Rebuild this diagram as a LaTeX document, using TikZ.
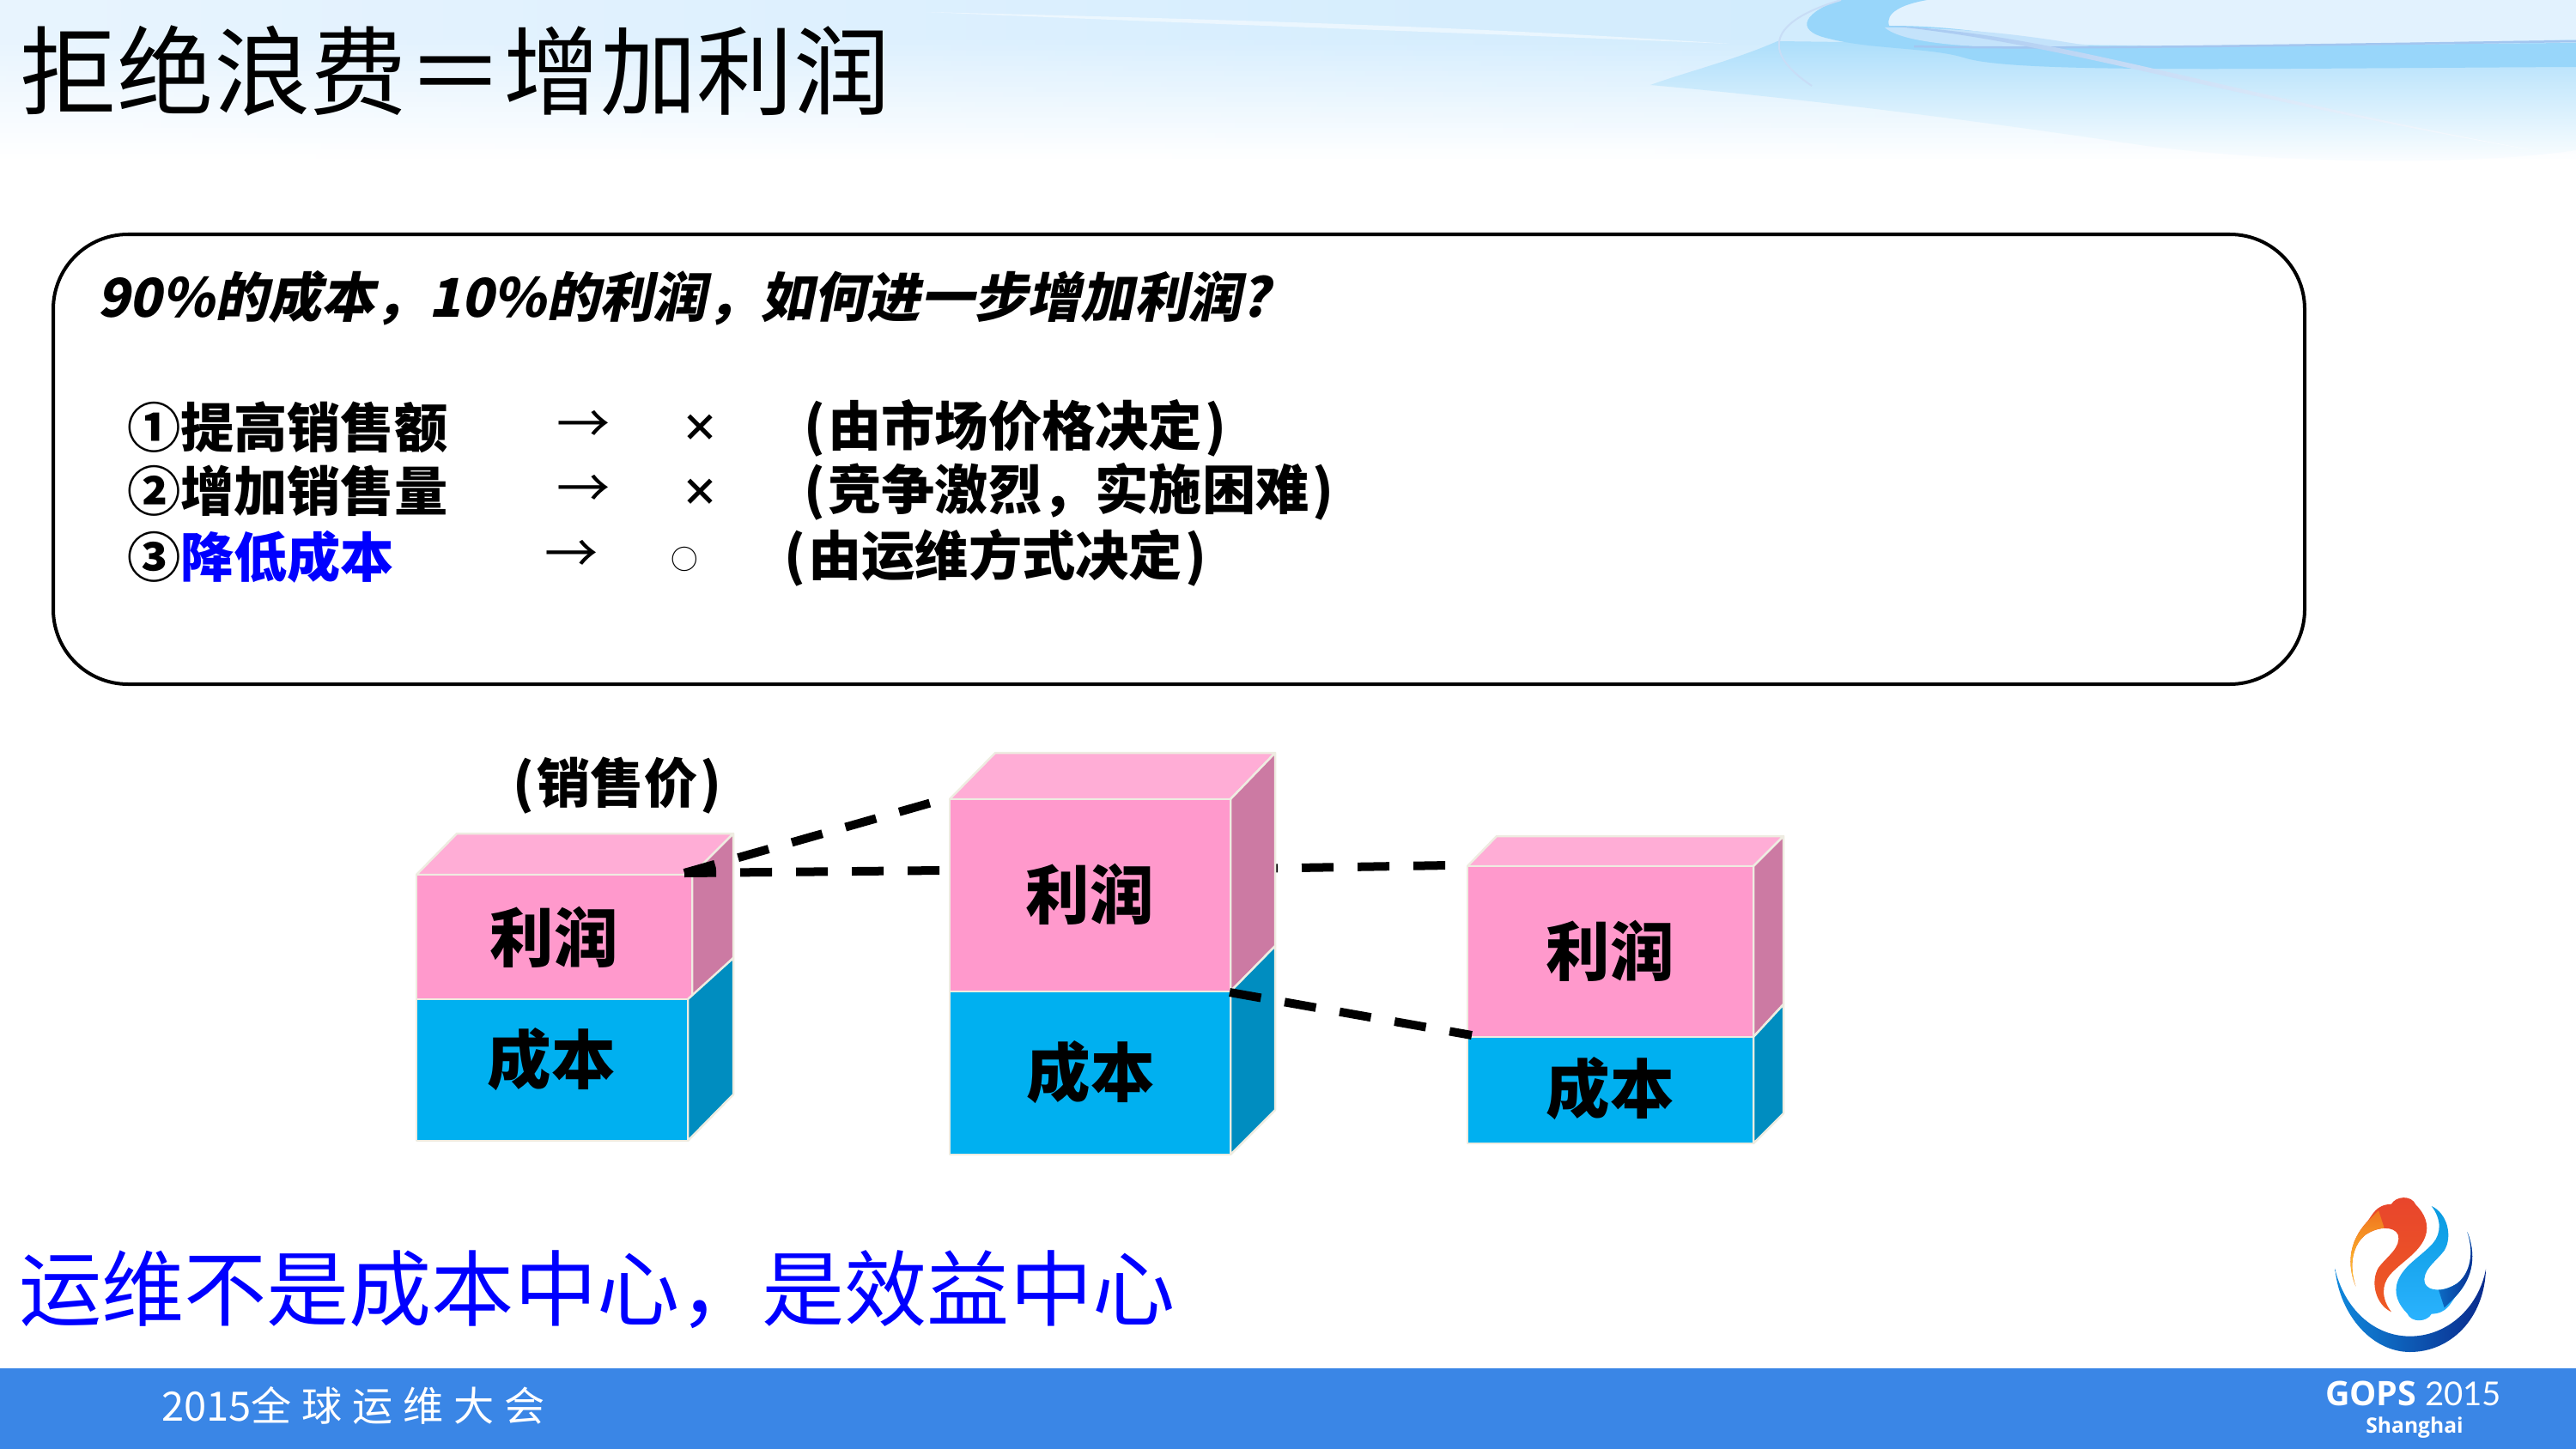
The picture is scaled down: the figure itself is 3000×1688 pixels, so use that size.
\documentclass[tikz,border=0pt]{standalone}
\usepackage{fontspec}
\setmainfont{Noto Sans CJK SC}
\newfontfamily\cjkslant{Noto Sans CJK SC}[UprightFeatures={FakeSlant=0.2},BoldFeatures={FakeSlant=0.2}]
\newfontfamily\cjkwide{Noto Sans CJK SC}[LetterSpace=25]
\newfontfamily\logofont{Open Sans}
\newfontfamily\logothin{Lato}
\definecolor{bandblue}{HTML}{3A86E6}
\definecolor{pinkfront}{HTML}{FF99CC}
\definecolor{pinktop}{HTML}{FFADD6}
\definecolor{pinkside}{HTML}{CC7AA3}
\definecolor{costfront}{HTML}{00B0F0}
\definecolor{costside}{HTML}{008DC0}
\definecolor{faceedge}{HTML}{EEECE1}
\definecolor{headleft}{HTML}{E8F4FE}
\definecolor{headmid}{HTML}{AAD7FA}
\definecolor{headright}{HTML}{C8E8FD}
\definecolor{swooshblue}{HTML}{98D6FA}
\definecolor{swooshpale}{HTML}{E2F2FE}
\definecolor{swooshline}{HTML}{A3C6F0}
\newcommand{\logofish}{(430,415) .. controls (400,340) and (405,260) .. (470,190) .. controls (490,165) and (500,130) .. (555,128) .. controls (570,100) and (625,95) .. (640,130) .. controls (670,160) and (690,200) .. (672,245) .. controls (650,300) and (590,330) .. (550,375) .. controls (520,410) and (520,460) .. (555,505) .. controls (500,480) and (480,400) .. (510,350) .. controls (540,310) and (590,280) .. (578,235) .. controls (565,205) and (510,205) .. (465,235) .. controls (420,270) and (405,340) .. (430,415) -- cycle}
\newcommand{\logoarm}{(430,415) .. controls (400,340) and (405,260) .. (470,190) -- (510,150) -- (530,212) .. controls (510,212) and (485,222) .. (465,235) .. controls (420,270) and (405,340) .. (430,415) -- cycle}
\begin{document}
\begin{tikzpicture}[x=0.01cm,y=-0.01cm,
    line cap=butt,
    plain/.style={inner sep=0pt,outer sep=0pt},
    rowtext/.style={plain,anchor=west,font=\fontsize{17.7}{20}\selectfont\bfseries},
    arrowtext/.style={plain,font=\fontsize{17.7}{20}\selectfont},
    marktext/.style={plain,font=\fontsize{12.5}{14}\selectfont\bfseries},
    face/.style={draw=faceedge,line width=0.025cm,line join=round},
    stacktext/.style={plain,font=\fontsize{21.2}{24}\selectfont\bfseries},
    gap/.style={line width=0.1cm,dash pattern=on 0.37cm off 0.28cm}]
    \useasboundingbox (0,0) rectangle (3000,1688);
    % background of the head
    \foreach \k in {0,...,31} {
      \pgfmathtruncatemacro{\pct}{max(0,min(100,(186-6*\k)/1.4))}
      \shade[left color=headleft!\pct!white,middle color=headmid!\pct!white,right color=headright!\pct!white] (0,6*\k) rectangle (3000,6*\k+7);
    }
    \shade[top color=swooshblue!80!white,bottom color=white] (2070,48) .. controls (2020,70) and (1960,85) .. (1922,99) .. controls (2100,115) and (2300,140) .. (2500,170) .. controls (2700,195) and (2900,190) .. (3000,175) -- (3000,60) -- cycle;
    \fill[swooshpale] (2244,0) .. controls (2215,5) and (2195,15) .. (2200,30) .. controls (2290,30) and (2350,45) .. (2430,52) .. controls (2600,55) and (2800,50) .. (3000,46) -- (3000,0) -- cycle;
    \fill[white,opacity=.5] (1079,14) .. controls (1400,22) and (1700,30) .. (2014,51) .. controls (1700,38) and (1400,28) .. (1079,14) -- cycle;
    \fill[swooshblue] (2144,0) .. controls (2105,12) and (2085,35) .. (2130,45) .. controls (2180,58) and (2250,55) .. (2290,68) .. controls (2350,85) and (2600,80) .. (3000,78) -- (3000,50) .. controls (2700,52) and (2500,58) .. (2400,52) .. controls (2350,45) and (2290,30) .. (2200,30) .. controls (2195,15) and (2215,5) .. (2244,0) -- cycle;
    \fill[headmid!70!white] (2195,32) .. controls (2290,32) and (2370,42) .. (2440,55) .. controls (2340,58) and (2220,55) .. (2195,32) -- cycle;
    \draw[swooshline,line width=0.025cm] (2229,54) .. controls (2400,58) and (2700,52) .. (3000,48);
    \draw[swooshline!60!white,line width=0.02cm] (2144,0) .. controls (2060,25) and (2050,60) .. (2110,100);
    \shade[left color=swooshline,right color=white] (2200,30) .. controls (2400,40) and (2550,100) .. (2950,175) .. controls (2550,105) and (2400,50) .. (2200,30) -- cycle;
    \node[plain,anchor=west,font=\fontsize{32}{36}\selectfont] (title) at (24,83) {拒绝浪费＝增加利润};
    % question box
    \draw[line width=0.04cm,rounded corners=0.87cm] (62,273) rectangle (2684,797);
    \node[rowtext] (question) at (113,347) {\cjkslant\bfseries 90\%的成本，10\%的利润，如何进一步增加利润?};
    \node[rowtext] (rowa) at (148,498) {①提高销售额};
    \node[rowtext] (rowb) at (148,572) {②增加销售量};
    \node[rowtext] (rowc) at (148,649) {③\textcolor{blue}{降低成本}};
    \node[arrowtext] (arrowa) at (680,497) {→};
    \node[arrowtext] (arrowb) at (680,572) {→};
    \node[arrowtext] (arrowc) at (666,648) {→};
    \node[marktext] (marka) at (815,499) {×};
    \node[marktext] (markb) at (815,574) {×};
    \node[arrowtext,font=\fontsize{9}{10}\selectfont] (markc) at (797,651) {○};
    \node[rowtext] (notea) at (936,499) {(\kern1pt 由市场价格决定\kern1pt)};
    \node[rowtext] (noteb) at (936,573) {(\kern1pt 竞争激烈，实施困难\kern1pt)};
    \node[rowtext] (notec) at (913,650) {(\kern1pt 由运维方式决定\kern1pt)};
    \node[rowtext,anchor=center] (price) at (719,915) {(\kern1pt 销售价\kern1pt)};
    % first stack
    \fill[face,fill=pinktop] (485,1019) -- (532,971) -- (854,971) -- (806,1019) -- cycle;
    \fill[face,fill=pinkside] (806,1019) -- (854,971) -- (854,1116) -- (806,1164) -- cycle;
    \fill[face,fill=pinkfront] (485,1019) rectangle (806,1164);
    \fill[face,fill=costside] (801,1164) -- (854,1116) -- (854,1275) -- (801,1329) -- cycle;
    \fill[face,fill=costfront] (485,1164) rectangle (801,1329);
    \node[stacktext] (profita) at (645,1092) {利润};
    \node[stacktext] (costa) at (642,1234) {成本};
    \coordinate (pricea) at (797,1017);
    \coordinate (priceb) at (1085,935);
    \coordinate (pricec) at (1097,1014);
    \coordinate (priced) at (1451,1012);
    \coordinate (pricee) at (1688,1008);
    \coordinate (costb) at (1432,1156);
    \coordinate (costc) at (1714,1206);
    \draw[gap] (pricea) -- (priceb);
    \draw[gap] (pricea) -- (pricec);
    \draw[gap] (priced) -- (pricee);
    % second stack
    \fill[face,fill=pinktop] (1106,931) -- (1159,877) -- (1485,877) -- (1433,931) -- cycle;
    \fill[face,fill=pinkside] (1433,931) -- (1485,877) -- (1485,1102) -- (1433,1155) -- cycle;
    \fill[face,fill=pinkfront] (1106,931) rectangle (1433,1155);
    \fill[face,fill=costside] (1433,1155) -- (1485,1102) -- (1485,1293) -- (1433,1345) -- cycle;
    \fill[face,fill=costfront] (1106,1155) rectangle (1433,1345);
    \node[stacktext] (profitb) at (1269,1042) {利润};
    \node[stacktext] (costtwo) at (1270,1249) {成本};
    % third stack
    \fill[face,fill=pinktop] (1709,1009) -- (1743,974) -- (2077,974) -- (2042,1009) -- cycle;
    \fill[face,fill=pinkside] (2042,1009) -- (2077,974) -- (2077,1170) -- (2042,1208) -- cycle;
    \fill[face,fill=pinkfront] (1709,1009) rectangle (2042,1208);
    \fill[face,fill=costside] (2042,1208) -- (2077,1170) -- (2077,1297) -- (2042,1332) -- cycle;
    \fill[face,fill=costfront] (1709,1208) rectangle (2042,1332);
    \node[stacktext] (profitc) at (1875,1108) {利润};
    \node[stacktext] (costthree) at (1875,1268) {成本};
    \draw[gap] (costb) -- (costc);
    \node[plain,anchor=west,text=blue,font=\fontsize{27.35}{30}\selectfont] (slogan) at (22,1502) {运维不是成本中心，是效益中心};
    % footer band and logo
    \fill[bandblue] (0,1594) rectangle (3000,1688);
    \node[plain,anchor=west,text=white,font=\fontsize{13.4}{16}\selectfont] (meeting) at (188,1637) {2015{\cjkwide 全球运维大会}};
    \begin{scope}[shift={(2600,1360)},x=0.01cm/3,y=-0.01cm/3]
      \definecolor{logoa}{HTML}{1088DC}
      \definecolor{logob}{HTML}{2BB3FF}
      \definecolor{logoc}{HTML}{0A2A8C}
      \definecolor{logod}{HTML}{E8452C}
      \definecolor{logoe}{HTML}{F39A18}
      \definecolor{logof}{HTML}{EE5A24}
      \definecolor{logog}{HTML}{0A9BE0}
      \definecolor{logoh}{HTML}{0C6CC4}
      \definecolor{logoi}{HTML}{FFD030}
      \shade[left color=logoa,middle color=logob,right color=logoc] (358,355) .. controls (375,520) and (490,645) .. (620,645) .. controls (760,645) and (880,530) .. (885,355) .. controls (860,490) and (750,590) .. (620,590) .. controls (490,590) and (390,490) .. (358,355) -- cycle;
      \shade[top color=logod,middle color=logoe,bottom color=logof] \logofish;
      \shade[bottom color=logoi,top color=logof!60!logoe] \logoarm;
      \shade[rotate around={180:(625,320)},top color=logog,middle color=logoh,bottom color=logob] \logofish;
      \shade[rotate around={180:(625,320)},left color=logoh,right color=logoc] \logoarm;
      \node[plain,anchor=west,text=white,font=\fontsize{11.2}{14}\selectfont\logofont\bfseries] (gops) at (324,790) {GOPS};
      \node[plain,anchor=west,text=white,font=\fontsize{10.9}{14}\selectfont\logothin] (year) at (672,790) {2015};
      \node[plain,text=white,font=\fontsize{7}{9}\selectfont\logofont\bfseries] (city) at (636,910) {Shanghai};
    \end{scope}
  \end{tikzpicture}
\end{document}
